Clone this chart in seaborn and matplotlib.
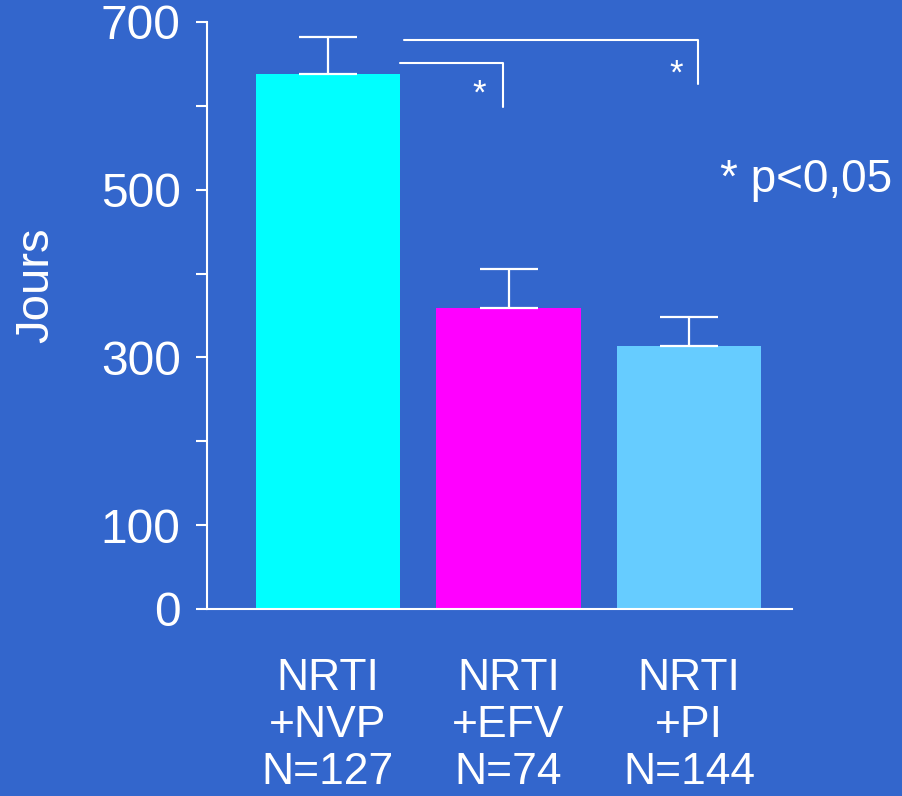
import matplotlib
matplotlib.use("Agg")
import matplotlib.pyplot as plt
import seaborn as sns
import numpy as np
import pandas as pd

# data
groups = ["NRTI\n+NVP\nN=127", "NRTI\n+EFV\nN=74", "NRTI\n+PI\nN=144"]
jours = [638, 359, 314]
err_up = [44, 46, 34]
bar_colors = ["#00FFFF", "#FF00FF", "#66CCFF"]
ytick_vals = [0, 100, 200, 300, 400, 500, 600, 700]
ytick_labels = ["0", "100", "", "300", "", "500", "", "700"]

BG = "#3366CC"
FG = "white"

sns.set_theme(style="white")
plt.rcParams["font.family"] = ["Liberation Sans", "DejaVu Sans"]

df = pd.DataFrame({"groupe": groups, "jours": jours})

fig = plt.figure(figsize=(9.02, 7.96), dpi=100, facecolor=BG)
ax = fig.add_axes([0.2295, 0.235, 0.6485, 0.7374])
ax.set_facecolor(BG)

sns.barplot(data=df, x="groupe", y="jours", hue="groupe", palette=bar_colors,
            saturation=1, width=0.8, legend=False, ax=ax, errorbar=None,
            linewidth=0, edgecolor="none")

# upper-only error bars
xs = np.arange(len(groups))
ax.errorbar(xs, jours, yerr=[np.zeros(len(jours)), err_up], fmt="none",
            ecolor=FG, elinewidth=1.6, capsize=21, capthick=1.6, zorder=3)

ax.set_xlim(-0.67, 2.57)
ax.set_ylim(0, 700)
ax.set_yticks(ytick_vals)
ax.set_yticklabels(ytick_labels)
ax.tick_params(axis="y", colors=FG, labelcolor=FG, labelsize=34.5, length=8,
               width=1.5, pad=11, left=True, direction="out")
ax.tick_params(axis="x", colors=FG, labelcolor=FG, labelsize=32, length=0, pad=35)
for lbl in ax.get_xticklabels():
    lbl.set_linespacing(1.2)

for side in ["top", "right"]:
    ax.spines[side].set_visible(False)
for side in ["left", "bottom"]:
    ax.spines[side].set_color(FG)
    ax.spines[side].set_linewidth(1.5)

ax.set_xlabel("")
ax.set_ylabel("Jours", color=FG, fontsize=34)
ax.yaxis.set_label_coords(-0.255, 0.552)

# significance brackets
lw = 1.5
ax.plot([0.4, 0.97, 0.97], [651, 651, 599], color=FG, lw=lw, clip_on=False)
ax.plot([0.42, 2.05, 2.05], [678, 678, 626], color=FG, lw=lw, clip_on=False)
ax.text(0.84, 614, "*", color=FG, fontsize=25, ha="center", va="center")
ax.text(1.93, 638, "*", color=FG, fontsize=25, ha="center", va="center")
ax.text(2.17, 512, "* p<0,05", color=FG, fontsize=33, ha="left", va="center")

fig.savefig("out.png", dpi=100, facecolor=BG)
